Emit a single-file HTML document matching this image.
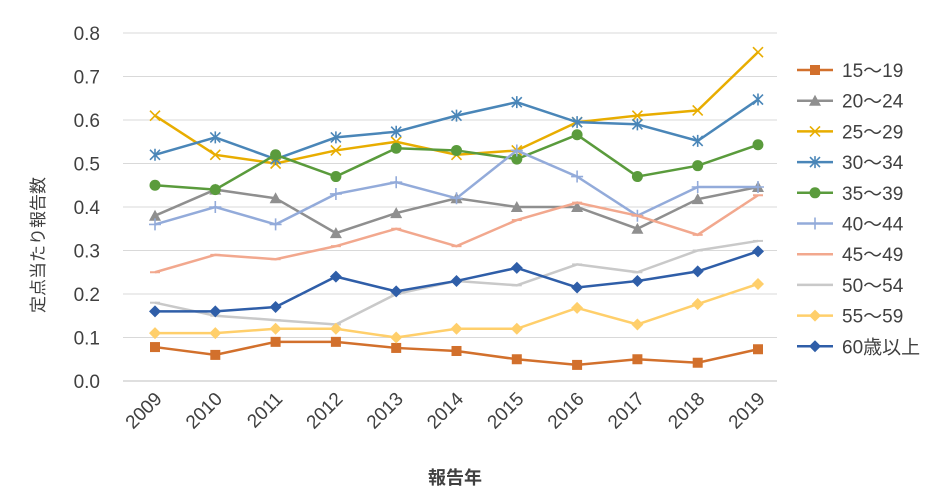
<!DOCTYPE html>
<html><head><meta charset="utf-8"><style>
html,body{margin:0;padding:0;background:#fff;}
svg{display:block;font-family:"Liberation Sans","Noto Sans CJK JP",sans-serif;}
</style></head><body>
<svg id="c" width="942" height="497"></svg>
<script>
const years=["2009","2010","2011","2012","2013","2014","2015","2016","2017","2018","2019"];
const yTicks=[0,0.1,0.2,0.3,0.4,0.5,0.6,0.7,0.8];
const sNames=["15～19","20～24","25～29","30～34","35～39","40～44","45～49","50～54","55～59","60歳以上"];
const s1519=[0.078,0.06,0.09,0.09,0.076,0.069,0.05,0.037,0.05,0.042,0.073];
const s2024=[0.38,0.44,0.42,0.34,0.386,0.42,0.40,0.40,0.35,0.418,0.446];
const s2529=[0.61,0.52,0.50,0.53,0.55,0.52,0.53,0.595,0.61,0.622,0.756];
const s3034=[0.52,0.56,0.51,0.56,0.573,0.61,0.641,0.595,0.59,0.552,0.647];
const s3539=[0.45,0.44,0.52,0.47,0.535,0.53,0.51,0.566,0.47,0.495,0.543];
const s4044=[0.36,0.40,0.36,0.43,0.457,0.42,0.53,0.47,0.38,0.446,0.446];
const s4549=[0.25,0.29,0.28,0.31,0.35,0.31,0.37,0.41,0.38,0.336,0.427];
const s5054=[0.18,0.15,0.14,0.13,0.20,0.23,0.22,0.268,0.25,0.30,0.322];
const s5559=[0.11,0.11,0.12,0.12,0.10,0.12,0.12,0.168,0.13,0.177,0.223];
const s60=[0.16,0.16,0.17,0.24,0.206,0.23,0.26,0.215,0.23,0.252,0.298];
const series=[s1519,s2024,s2529,s3034,s3539,s4044,s4549,s5054,s5559,s60];
const colors=["#d2702c","#8f8f8f","#e8ad00","#4a86b8","#5a9b3c","#93abda","#f2a88e","#c9c9c9","#ffcf6b","#2f5ea8"];
const markers=["square","tri","x","star","circle","plus","dash","dash","diamond","diamond"];
const NS="http://www.w3.org/2000/svg";
const svg=document.getElementById('c');
const X0=123,X1=777,Y0=381,Y1=33;
const xs=i=>155+(758-155)*i/(years.length-1);
const ys=v=>Y0-(Y0-Y1)*v/0.8;
function el(t,a,p){const e=document.createElementNS(NS,t);for(const k in a)e.setAttribute(k,a[k]);(p||svg).appendChild(e);return e;}
yTicks.forEach(t=>{
 const g=el('line',{x1:X0,x2:X1,y1:ys(t),y2:ys(t),stroke:t===0?'#bfbfbf':'#d9d9d9','stroke-width':1});
 
 
 const tx=el('text',{x:100,y:ys(t)+7,'text-anchor':'end','font-size':19,fill:'#404040'});
 tx.textContent=t.toFixed(1);
 
 
});
years.forEach((y,i)=>{
 const tx=el('text',{x:0,y:0,'text-anchor':'end','font-size':19,fill:'#404040',transform:`translate(${xs(i)+8},${400}) rotate(-45)`});
 tx.textContent=y;
 
 
});
function marker(type,x,y,c,g){
 let m;
 if(type==='square')m=el('rect',{x:x-5,y:y-5,width:10,height:10,fill:c},g);
 else if(type==='tri')m=el('polygon',{points:`${x},${y-6} ${x+6},${y+5} ${x-6},${y+5}`,fill:c},g);
 else if(type==='circle')m=el('circle',{cx:x,cy:y,r:5.5,fill:c},g);
 else if(type==='diamond')m=el('polygon',{points:`${x},${y-6} ${x+6},${y} ${x},${y+6} ${x-6},${y}`,fill:c},g);
 else if(type==='x')m=el('path',{d:`M${x-5} ${y-5}L${x+5} ${y+5}M${x-5} ${y+5}L${x+5} ${y-5}`,stroke:c,'stroke-width':1.6,fill:'none'},g);
 else if(type==='star')m=el('path',{d:`M${x-5} ${y-5}L${x+5} ${y+5}M${x-5} ${y+5}L${x+5} ${y-5}M${x} ${y-6}L${x} ${y+6}`,stroke:c,'stroke-width':1.6,fill:'none'},g);
 else if(type==='plus')m=el('path',{d:`M${x-6} ${y}L${x+6} ${y}M${x} ${y-6}L${x} ${y+6}`,stroke:c,'stroke-width':1.6,fill:'none'},g);
 else m=el('path',{d:`M${x-5} ${y}L${x+5} ${y}`,stroke:c,'stroke-width':2,fill:'none'},g);
 
 
}
series.forEach((s,k)=>{
 const g=el('g',{});
 
 
 const pl=el('polyline',{points:s.map((v,i)=>xs(i)+','+ys(v)).join(' '),fill:'none',stroke:colors[k],'stroke-width':2.5},g);
 
 
 s.forEach((v,i)=>marker(markers[k],xs(i),ys(v),colors[k],g));
 const ly=70+k*30.7;
 const lg=el('g',{});
 
 
 el('line',{x1:797,x2:833,y1:ly,y2:ly,stroke:colors[k],'stroke-width':2.5},lg);
 marker(markers[k],815,ly,colors[k],lg);
 const t=el('text',{x:842,y:ly+7,'font-size':19,fill:'#404040'},lg);
 t.textContent=sNames[k];
});
const yt=el('text',{x:0,y:0,'text-anchor':'middle','font-size':17,fill:'#404040',transform:'translate(44,245) rotate(-90)'});
yt.textContent='定点当たり報告数';


const xt=el('text',{x:455,y:484,'text-anchor':'middle','font-size':18,'font-weight':'bold',fill:'#404040'});
xt.textContent='報告年';


</script>
</body></html>
